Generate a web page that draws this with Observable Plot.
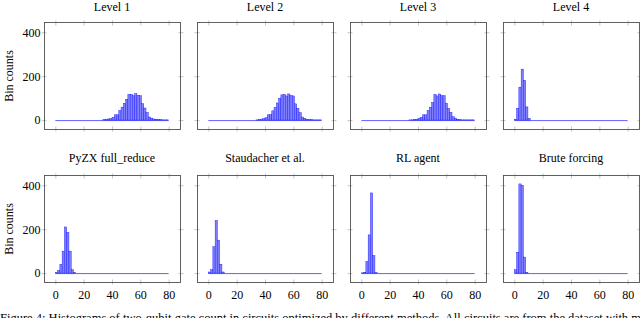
<!DOCTYPE html>
<html>
<head>
<meta charset="utf-8">
<script src="https://cdn.jsdelivr.net/npm/d3@7"></script>
<script src="https://cdn.jsdelivr.net/npm/@observablehq/plot@0.6"></script>
<style>
  html, body { margin: 0; padding: 0; background: #fff; }
  #chart { position: relative; width: 640px; height: 318px; overflow: hidden;
           font-family: "Liberation Serif", "Times New Roman", serif; color: #000; }
  #chart svg { position: absolute; }
  .title { position: absolute; font-size: 12px; white-space: nowrap; transform: translateX(-50%); line-height: 1; }
  .ylab { position: absolute; font-size: 12px; white-space: nowrap; line-height: 1;
          transform: translate(-50%, -50%) rotate(-90deg); }
  .caption { position: absolute; left: 0; font-size: 12.5px; white-space: nowrap; line-height: 1; }
</style>
</head>
<body>
<div id="chart"></div>
<script>
// ---------- data ----------
const binWidth = 1.6;                 // histogram bin width (bins cover 0..80)
const binRange = [0, 80];
const xTicks = [0, 20, 40, 60, 80];
const yTicks = [0, 200, 400];
const titles = ["Level 1", "Level 2", "Level 3", "Level 4",
                "PyZX full_reduce", "Staudacher et al.", "RL agent", "Brute forcing"];
const yLabel = "Bin counts";
const caption = "Figure 4: Histograms of two-qubit gate count in circuits optimized by different methods. All circuits are from the dataset with most";

// first bin index and counts for each panel
const level1Start = 21;
const level1 = [2, 3, 5, 6, 13, 24, 24, 44, 59, 77, 95, 117, 117, 111, 120, 113, 111, 75, 55, 35, 14, 9, 5, 4, 2, 2, 1, 1, 1];
const level2Start = 21;
const level2 = [1, 2, 3, 6, 11, 24, 25, 42, 58, 78, 99, 115, 117, 110, 119, 112, 110, 74, 54, 34, 14, 8, 4, 2, 2, 1, 1, 1, 1];
const level3Start = 21;
const level3 = [1, 1, 2, 4, 9, 13, 24, 24, 44, 59, 80, 117, 110, 119, 111, 111, 77, 54, 35, 15, 9, 4, 2, 1, 1, 1, 1, 1, 1];
const level4Start = 0;
const level4 = [4, 54, 150, 232, 181, 60, 8];
const pyzxStart = 0;
const pyzx = [3, 12, 40, 100, 210, 185, 100, 15, 3];
const staudStart = 0;
const staud = [5, 15, 120, 240, 150, 40, 5];
const rlStart = 0;
const rl = [1, 4, 53, 174, 365, 80, 2];
const bruteStart = 0;
const brute = [15, 95, 406, 400, 73, 3];

const series = [
  [level1Start, level1], [level2Start, level2], [level3Start, level3], [level4Start, level4],
  [pyzxStart, pyzx], [staudStart, staud], [rlStart, rl], [bruteStart, brute]
];

// ---------- layout ----------
const colLeft = [44, 197, 350, 503];
const rowTop = [22, 175];
const frameW = 136, frameH = 107;
const xDomain = [-8, 88];
const yDomain = [-40.6, 446.6];
const mL = 40, mR = 12, mT = 10, mB = 28;

const chart = document.getElementById("chart");

series.forEach(([start, counts], i) => {
  const col = i % 4, row = Math.floor(i / 4);
  const bins = counts.map((c, k) => ({x1: (start + k) * binWidth, x2: (start + k + 1) * binWidth, y: c}));
  const base = [{x1: binRange[0], x2: binRange[1], y: 0}];
  const tickStyle = {tickFormat: () => "", stroke: "#a0a0a0", strokeWidth: 0.6, label: null, tickSize: 5};
  const marks = [
    Plot.ruleY(base, {x1: "x1", x2: "x2", y: "y", stroke: "#5050ff", strokeWidth: 0.9}),
    Plot.rectY(bins, {x1: "x1", x2: "x2", y: "y", fill: "#7f7fff", stroke: "#1010ff", strokeWidth: 0.4, inset: 0}),
    Plot.axisX(xTicks, {anchor: "bottom", dy: -2.5, ...tickStyle}),
    Plot.axisX(xTicks, {anchor: "top", dy: 2.5, ...tickStyle}),
    Plot.axisY(yTicks, {anchor: "left", dx: 2.5, ...tickStyle}),
    Plot.axisY(yTicks, {anchor: "right", dx: -2.5, ...tickStyle}),
    Plot.frame({stroke: "#505050", strokeWidth: 0.9})
  ];
  if (col === 0) marks.push(Plot.axisY(yTicks, {anchor: "left", tickSize: 0, tickPadding: 4, label: null, fontSize: 12, fill: "#000"}));
  if (row === 1) marks.push(Plot.axisX(xTicks, {anchor: "bottom", tickSize: 0, tickPadding: 8, label: null, fontSize: 12, fill: "#000"}));
  const svg = Plot.plot({
    width: frameW + mL + mR,
    height: frameH + mT + mB,
    marginLeft: mL, marginRight: mR, marginTop: mT, marginBottom: mB,
    style: {background: "transparent", overflow: "visible", fontFamily: "'Liberation Serif', serif", fontSize: "12px"},
    x: {domain: xDomain},
    y: {domain: yDomain},
    marks
  });
  svg.style.left = (colLeft[col] - mL) + "px";
  svg.style.top = (rowTop[row] - mT) + "px";
  chart.appendChild(svg);

  const t = document.createElement("div");
  t.className = "title";
  t.textContent = titles[i];
  t.style.left = (colLeft[col] + frameW / 2) + "px";
  t.style.top = (rowTop[row] - (row === 0 ? 21 : 23)) + "px";
  chart.appendChild(t);
});

rowTop.forEach(top => {
  const l = document.createElement("div");
  l.className = "ylab";
  l.textContent = yLabel;
  l.style.left = "8.5px";
  l.style.top = (top + frameH / 2) + "px";
  chart.appendChild(l);
});

const cap = document.createElement("div");
cap.className = "caption";
cap.textContent = caption;
cap.style.top = "312px";
chart.appendChild(cap);
</script>
</body>
</html>
